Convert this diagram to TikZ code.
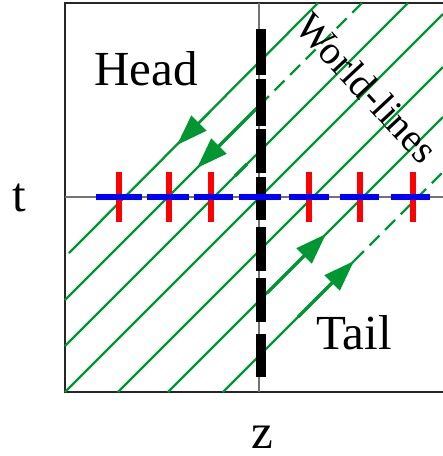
\documentclass[tikz,border=0pt]{standalone}
\usepackage{fontspec}
\setmainfont{Liberation Serif}
\usetikzlibrary{arrows.meta}
\definecolor{wl}{RGB}{0,150,50}
\definecolor{bl}{RGB}{0,0,255}
\definecolor{rd}{RGB}{255,0,0}
\begin{document}
\begin{tikzpicture}[x=1pt,y=-1pt,
  frame/.style={draw=black!85,line width=1.3pt},
  axisline/.style={draw=black!55,line width=1.5pt},
  wline/.style={draw=wl,line width=2.3pt},
  wdash/.style={wline,dash pattern=on 14pt off 8pt},
  warrow/.style={draw=wl,fill=wl,line width=3.3pt,-{Triangle[length=31pt,width=21pt]}},
  wthick/.style={draw=wl,line width=3.5pt},
  tbar/.style={fill=black},
  rtick/.style={fill=rd},
  bdash/.style={fill=bl},
  big/.style={font=\fontsize{49}{51}\selectfont},
  ]
\useasboundingbox (0,0) rectangle (443,456);
% frame and axes
\draw[frame] (443,3) -- (65,3) -- (65,392) -- (443,392);
\draw[axisline] (65,197) -- (443,197);
\draw[axisline] (259,3) -- (259,392);
% world-lines
\coordinate (a0) at (69,253);  \coordinate (a1) at (318,3);
\coordinate (b0) at (65,300);  \coordinate (bm) at (259,106); \coordinate (b1) at (362,3);
\coordinate (c0) at (65,346);  \coordinate (c1) at (408,3);
\coordinate (d0) at (65,392);  \coordinate (d1) at (443,14);
\coordinate (e0) at (118,392); \coordinate (e1) at (443,67);
\coordinate (f0) at (168,392); \coordinate (f1) at (443,117);
\coordinate (g0) at (223,392); \coordinate (gm) at (354,261); \coordinate (g1) at (443,172);
\draw[wline] (a0) -- (a1);
\draw[wline] (b0) -- (bm);
\draw[wdash] (bm) -- (b1);
\draw[wline] (c0) -- (c1);
\draw[wline] (d0) -- (d1);
\draw[wline] (e0) -- (e1);
\draw[wline] (f0) -- (f1);
\draw[wline] (g0) -- (gm);
\draw[wdash] (gm) -- (g1);
% arrows
\coordinate (aa0) at (210,112); \coordinate (aa1) at (177,145);
\draw[warrow,line width=2.3pt] (aa0) -- (aa1);
\coordinate (ba0) at (258,107); \coordinate (ba1) at (197,168);
\draw[warrow] (ba0) -- (ba1);
\coordinate (ca0) at (235,176); \coordinate (ca1) at (247,164);
\draw[wthick] (ca0) -- (ca1);
\coordinate (fa0) at (267,293); \coordinate (fa1) at (326,234);
\draw[warrow] (fa0) -- (fa1);
\coordinate (ga0) at (298,317); \coordinate (ga1) at (354,261);
\draw[warrow] (ga0) -- (ga1);
% black bars on the z axis
\foreach \ya/\yb in {29/75,79/126,129/173,177/220,227/271,278/322,334/377}
  \fill[tbar] (256,\ya) rectangle (266,\yb);
% red ticks
\foreach \x in {119,169,211,309,360,413}
  \fill[rtick] (\x-3,172) rectangle (\x+3,222);
% blue dashes on the t axis
\foreach \xa/\xb in {96/142,147/189,194/233,239/281,289/329,340/379,391/430}
  \fill[bdash] (\xa,194) rectangle (\xb,200);
% labels
\node[big,anchor=base,inner sep=0pt] (head) at (146,85) {Head};
\node[big,anchor=base,inner sep=0pt] (tail) at (354,349) {Tail};
\node[big,anchor=base,inner sep=0pt] (tlab) at (19,211) {t};
\node[big,anchor=base,inner sep=0pt] (zlab) at (262,448) {z};
\node[font=\fontsize{40}{42}\selectfont,rotate=-47,inner sep=0pt] (wlab) at (367,88) {World-lines};
\end{tikzpicture}
\end{document}
